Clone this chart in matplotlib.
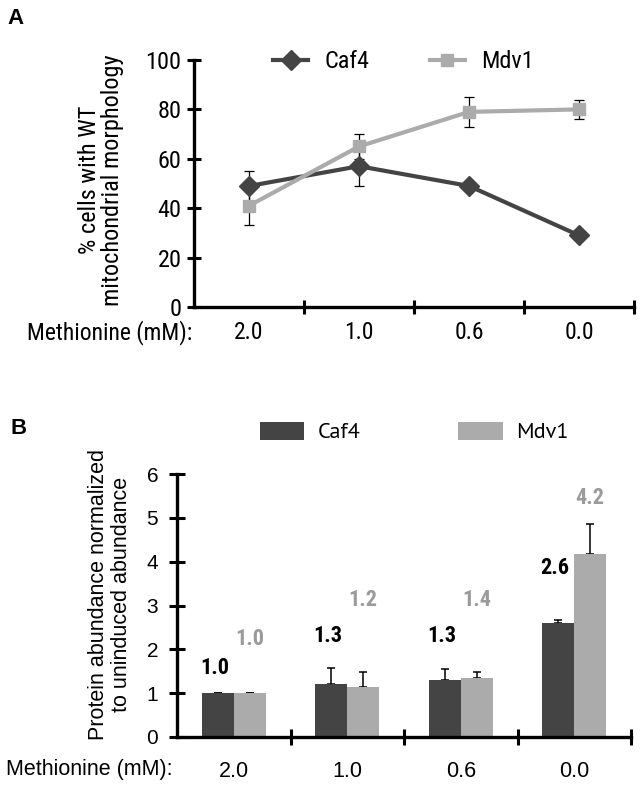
import matplotlib
matplotlib.use("Agg")
import matplotlib.pyplot as plt
from matplotlib.lines import Line2D
from matplotlib.patches import Patch
import numpy as np

# ---------------- data ----------------
categories = ["2.0", "1.0", "0.6", "0.0"]
series = ["Caf4", "Mdv1"]

# Panel A: % cells with WT mitochondrial morphology
caf4_pct = [49, 57, 49, 29]
caf4_pct_err = [6, 8, 1, 1]
mdv1_pct = [41, 65, 79, 80]
mdv1_pct_err = [8, 5, 6, 4]

# Panel B: protein abundance normalized to uninduced
caf4_abund = [1.0, 1.22, 1.29, 2.59]
caf4_abund_err = [0.0, 0.36, 0.27, 0.09]
mdv1_abund = [1.0, 1.13, 1.35, 4.18]
mdv1_abund_err = [0.0, 0.36, 0.14, 0.68]
caf4_labels = ["1.0", "1.3", "1.3", "2.6"]
mdv1_labels = ["1.0", "1.2", "1.4", "4.2"]

DARK = "#444444"
LIGHT = "#ababab"
LABGRAY = "#9a9a9a"
COND = ["Roboto Condensed", "DejaVu Sans"]
REG = ["Liberation Sans", "DejaVu Sans"]
HUM = ["PT Sans", "DejaVu Sans"]

W, H = 642, 788
fig = plt.figure(figsize=(W/100, H/100), dpi=100)
x = np.arange(len(categories))

def fx(px):
    return px / W

def fy(py):
    return 1 - py / H

# ---------------- Panel A ----------------
A_L, A_R, A_T, A_B = 194, 634, 60, 307
axA = fig.add_axes([fx(A_L), fy(A_B), (A_R - A_L)/W, (A_B - A_T)/H])
axA.errorbar(x, caf4_pct, yerr=caf4_pct_err, fmt="none", ecolor="black",
             elinewidth=0.9, capsize=3.5, capthick=0.9, zorder=1)
axA.errorbar(x, mdv1_pct, yerr=mdv1_pct_err, fmt="none", ecolor="black",
             elinewidth=0.9, capsize=3.5, capthick=0.9, zorder=1)
axA.plot(x, caf4_pct, color=DARK, lw=3.0, marker="D", ms=10, zorder=2)
axA.plot(x, mdv1_pct, color=LIGHT, lw=3.0, marker="s", ms=9, zorder=3)

axA.set_xlim(-0.5, 3.5)
axA.set_ylim(0, 100)
axA.set_yticks([0, 20, 40, 60, 80, 100])
axA.set_xticks([0.5, 1.5, 2.5, 3.5])
axA.set_xticklabels([])
axA.set_xticks(x, minor=True)
axA.set_xticklabels(categories, minor=True, fontfamily=COND, fontsize=17)
axA.tick_params(axis="x", which="minor", length=0, pad=10)
axA.tick_params(axis="both", which="major", direction="inout", length=10, width=2.2)
axA.tick_params(axis="y", labelsize=17.5, pad=4)
for lab in axA.get_yticklabels():
    lab.set_fontfamily(COND)
for s in ["top", "right"]:
    axA.spines[s].set_visible(False)
for s in ["left", "bottom"]:
    axA.spines[s].set_linewidth(2.4)

fig.text(fx(101), fy(180), "% cells with WT\nmitochondrial morphology",
         rotation=90, ha="center", va="center", multialignment="center",
         fontsize=17.5, fontfamily=COND, linespacing=1.05)
fig.text(fx(A_L - 2), fy(333), "Methionine (mM):", ha="right", va="center",
         fontsize=17, fontfamily=COND)
fig.text(fx(7), fy(18), "A", ha="left", va="center", fontsize=16,
         fontweight="bold", fontfamily=REG)

handlesA = [Line2D([], [], color=DARK, lw=3.0, marker="D", ms=10),
            Line2D([], [], color=LIGHT, lw=3.0, marker="s", ms=9)]
fig.legend(handlesA, series, loc="center left", bbox_to_anchor=(fx(273), fy(62)),
           ncol=2, frameon=False, borderpad=0, borderaxespad=0,
           handlelength=1.45, handletextpad=0.65, columnspacing=2.5,
           prop={"family": COND, "size": 17.5})

# ---------------- Panel B ----------------
B_L, B_R, B_T, B_B = 177, 631, 474, 737
axB = fig.add_axes([fx(B_L), fy(B_B), (B_R - B_L)/W, (B_B - B_T)/H])
w = 0.28
axB.bar(x - w/2, caf4_abund, width=w, color=DARK, zorder=2)
axB.bar(x + w/2, mdv1_abund, width=w, color=LIGHT, zorder=2)
axB.errorbar(x - w/2, caf4_abund, yerr=[np.zeros(4), caf4_abund_err], fmt="none",
             ecolor="black", elinewidth=1.1, capsize=3.2, capthick=1.1, zorder=1)
axB.errorbar(x + w/2, mdv1_abund, yerr=[np.zeros(4), mdv1_abund_err], fmt="none",
             ecolor="black", elinewidth=1.1, capsize=3.2, capthick=1.1, zorder=1)

# value labels (heights are layout positions above the bars)
caf4_lab_y = [1.58, 2.31, 2.31, 3.86]
mdv1_lab_y = [2.24, 3.13, 3.13, 5.46]
for i in range(len(categories)):
    axB.text(x[i] - 0.17, caf4_lab_y[i], caf4_labels[i], ha="center", va="center",
             fontsize=16, fontweight="bold", fontfamily=COND, color="black")
    axB.text(x[i] + 0.14, mdv1_lab_y[i], mdv1_labels[i], ha="center", va="center",
             fontsize=16, fontweight="bold", fontfamily=COND, color=LABGRAY)

axB.set_xlim(-0.5, 3.5)
axB.set_ylim(0, 6)
axB.set_yticks(range(0, 7))
axB.set_xticks([0.5, 1.5, 2.5, 3.5])
axB.set_xticklabels([])
axB.set_xticks(x, minor=True)
axB.set_xticklabels(categories, minor=True, fontfamily=REG, fontsize=15.5)
axB.tick_params(axis="x", which="minor", length=0, pad=17)
axB.tick_params(axis="both", which="major", direction="inout", length=11, width=2.2)
axB.tick_params(axis="y", labelsize=15, pad=8)
for lab in axB.get_yticklabels():
    lab.set_fontfamily(REG)
for s in ["top", "right"]:
    axB.spines[s].set_visible(False)
for s in ["left", "bottom"]:
    axB.spines[s].set_linewidth(2.4)

fig.text(fx(110), fy(594), "Protein abundance normalized\nto uninduced abundance",
         rotation=90, ha="center", va="center", multialignment="center",
         fontsize=15.5, fontfamily=REG, linespacing=1.1)
fig.text(fx(173), fy(770), "Methionine (mM):", ha="right", va="center",
         fontsize=15.5, fontfamily=REG)
fig.text(fx(10), fy(429), "B", ha="left", va="center", fontsize=16,
         fontweight="bold", fontfamily=REG)

handlesB = [Patch(facecolor=DARK), Patch(facecolor=LIGHT)]
fig.legend(handlesB, series, loc="center left", bbox_to_anchor=(fx(260), fy(432)),
           ncol=2, frameon=False, borderpad=0, borderaxespad=0,
           handlelength=2.0, handleheight=0.9, handletextpad=0.6,
           columnspacing=4.4, prop={"family": HUM, "size": 16})

fig.savefig("out.png", dpi=100)
